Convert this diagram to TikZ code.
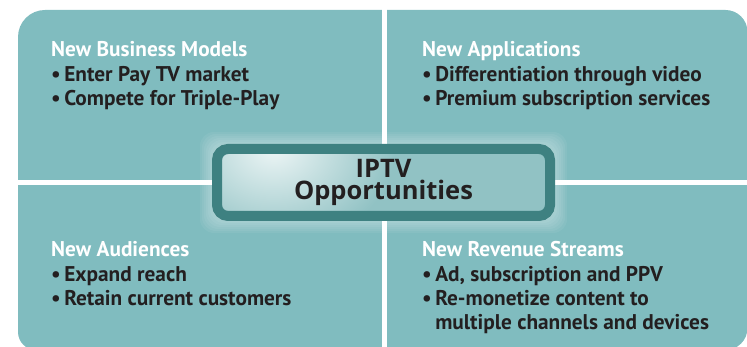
\documentclass[tikz,border=0pt]{standalone}
\usepackage{fontspec}
\setmainfont{PT Sans}
\newfontfamily\titlefont{Open Sans}
\usepackage{xcolor}
\usetikzlibrary{calc,positioning}
\definecolor{quadteal}{RGB}{128,188,191}
\definecolor{rimteal}{RGB}{62,129,129}
\definecolor{boxteal}{RGB}{145,194,196}
\definecolor{glowwhite}{RGB}{236,245,245}
\definecolor{inkdark}{RGB}{35,31,32}
\pgfdeclareradialshading{cornerglow}{\pgfpoint{0bp}{0bp}}{color(0bp)=(glowwhite); color(11bp)=(boxteal); color(50bp)=(boxteal)}
\newcommand{\bul}{\textbullet\hspace{3.5pt}}

\begin{document}
\begin{tikzpicture}[x=1pt, y=1pt,
    quad/.style={fill=quadteal},
    gap/.style={fill=white},
    quadtext/.style={anchor=base west, inner sep=0pt, align=left, text=inkdark, font=\fontsize{21.3}{24.3}\selectfont\bfseries},
    centerbox/.style={draw=rimteal, fill=boxteal, line width=10pt, rounded corners=11pt, minimum width=333pt, minimum height=67pt, inner sep=0pt, align=center, text=inkdark, font=\titlefont\fontsize{25.5}{22}\selectfont\bfseries,
        path picture={\shade[shading=cornerglow] (path picture bounding box.north west) circle (220pt);}},
    halo/.style={fill=white, opacity=0.06, rounded corners=14pt}
]
    \useasboundingbox (0,0) rectangle (747,347);
    \clip (0,0) rectangle (747,347);

    % Four quadrants: one rounded block split by white gaps
    \fill[quad] (18,160) [rounded corners=27pt] -- (18,337) [rounded corners=22pt] -- (747.5,337) -- (747.5,-3) [rounded corners=18pt] -- (18,-3) [sharp corners] -- cycle;
    \fill[gap] (382,-5) rectangle (387,350);
    \fill[gap] (0,162) rectangle (750,167);

    % Glow round the centre box
    \coordinate (mid) at (383.5,164.5);
    \foreach \d in {5,7,...,17}
        \fill[halo] ($(mid)+(-166.5-\d,-33.5-\d)$) rectangle ($(mid)+(166.5+\d,33.5+\d)$);

    % Centre box
    \node[centerbox] (ctr) at (mid) {\raisebox{-3pt}{IPTV}\\\raisebox{-3pt}{Opportunities}};

    % Quadrant texts (base = last line)
    \node[quadtext] (busmod) at (51,241.4) {\textcolor{white}{New Business Models}\\\bul Enter Pay TV market\\\bul Compete for Triple-Play};
    \node[quadtext] (apps) at (422,241.4) {\textcolor{white}{New Applications}\\\bul Differentiation through video\\\bul Premium subscription services};
    \node[quadtext] (aud) at (51,41.4) {\textcolor{white}{New Audiences}\\\bul Expand reach\\\bul Retain current customers};
    \node[quadtext] (rev) at (422,17.1) {\textcolor{white}{New Revenue Streams}\\\bul Ad, subscription and PPV\\\bul Re-monetize content to\\\phantom{\bul}multiple channels and devices};
\end{tikzpicture}
\end{document}
